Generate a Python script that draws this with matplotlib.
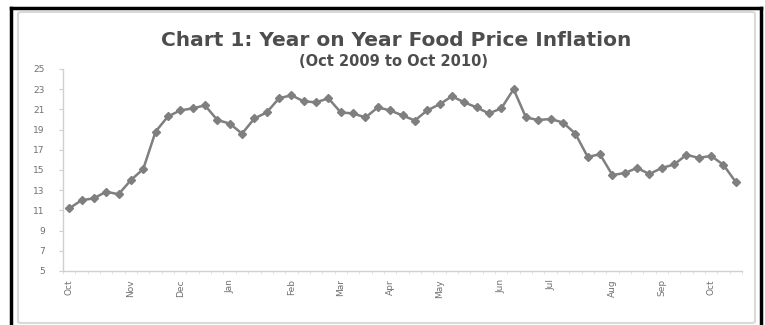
import matplotlib
matplotlib.use("Agg")
import matplotlib.pyplot as plt
from matplotlib.lines import Line2D
from matplotlib.patches import FancyBboxPatch
import numpy as np

# weekly year-on-year food inflation, Oct 2009 .. Oct 2010
inflation = [11.2, 12.0, 12.2, 12.85, 12.6, 14.0, 15.1, 18.8, 20.3, 20.9,
             21.1, 21.4, 19.95, 19.6, 18.6, 20.1, 20.7, 22.1, 22.4, 21.8,
             21.7, 22.1, 20.7, 20.6, 20.2, 21.2, 20.9, 20.4, 19.9, 20.9,
             21.5, 22.3, 21.7, 21.2, 20.6, 21.1, 23.0, 20.2, 19.95, 20.05,
             19.7, 18.6, 16.3, 16.55, 14.5, 14.7, 15.2, 14.6, 15.2, 15.55,
             16.5, 16.2, 16.4, 15.5, 13.8]

# month labels and the week index where each appears
month_labels = ["Oct", "Nov", "Dec", "Jan", "Feb", "Mar", "Apr",
                "May", "Jun", "Jul", "Aug", "Sep", "Oct"]
month_weeks = [0, 5, 9, 13, 18, 22, 26, 30, 35, 39, 44, 48, 52]

y_ticks = [5, 7, 9, 11, 13, 15, 17, 19, 21, 23, 25]

W, H = 765, 325
fig = plt.figure(figsize=(W / 100, H / 100), dpi=100)
fig.patch.set_facecolor("white")

ax = fig.add_axes([63 / W, 1 - 271 / H, (742 - 63) / W, (271 - 69) / H])

x = np.arange(len(inflation))
ax.plot(x, inflation, color="#7f7f7f", lw=1.8, marker="D", ms=3.6,
        mec="#7f7f7f", mfc="#7f7f7f")

ax.set_xlim(-0.5, len(inflation) - 0.5)
ax.set_ylim(5, 25)
ax.set_yticks(y_ticks)
ax.set_xticks(month_weeks)
ax.set_xticklabels(month_labels, rotation=90)
ax.set_xticks(np.arange(-0.5, len(inflation), 1), minor=True)

for side in ["top", "right"]:
    ax.spines[side].set_visible(False)
for side in ["left", "bottom"]:
    ax.spines[side].set_color("#d0d0d0")
    ax.spines[side].set_linewidth(1.0)

ax.tick_params(axis="y", direction="out", length=3, color="#d0d0d0",
               labelsize=6.5, labelcolor="#707070", pad=10)
ax.tick_params(axis="x", which="major", length=0, labelsize=6.5,
               labelcolor="#707070", pad=6)
ax.tick_params(axis="x", which="minor", direction="out", length=2,
               color="#e0e0e0")

fig.text(396 / W, 1 - 40 / H, "Chart 1: Year on Year Food Price Inflation",
         ha="center", va="center", fontsize=14.5, fontweight="bold",
         color="#4d4d4d", family="DejaVu Sans")
fig.text(394 / W, 1 - 62 / H, "(Oct 2009 to Oct 2010)",
         ha="center", va="center", fontsize=10.5, fontweight="bold",
         color="#4d4d4d", family="DejaVu Sans")

# light grey chart border
fig.patches.append(FancyBboxPatch((18 / W, 1 - 323 / H), (755 - 18) / W, (323 - 12) / H,
                                  boxstyle="round,pad=0,rounding_size=0.005",
                                  transform=fig.transFigure, fill=False,
                                  ec="#d9d9d9", lw=1.5))

# black frame (top, left, right)
for xs, ys in [([10.5, 760.5], [7.5, 7.5]),
               ([10.5, 10.5], [7.5, 325]),
               ([760.5, 760.5], [7.5, 325])]:
    fig.lines.append(Line2D([v / W for v in xs], [1 - v / H for v in ys],
                            transform=fig.transFigure, color="black", lw=2.5))

fig.savefig("out.png", dpi=100)
